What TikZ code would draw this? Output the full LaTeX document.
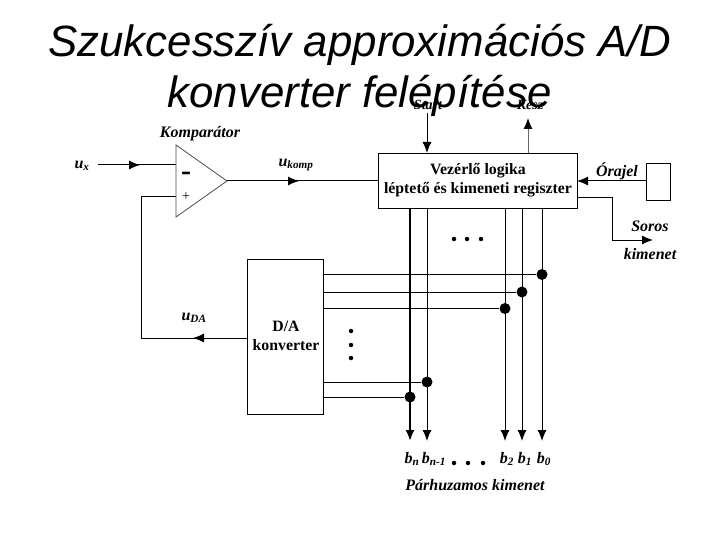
\documentclass[tikz,border=0pt]{standalone}
\usepackage{fontspec}
\setmainfont{Liberation Serif}
\newfontfamily\titlefont{Liberation Sans}
\usetikzlibrary{arrows.meta}
\tikzset{
  x=1pt,y=-1pt,
  wire/.style={line width=1pt,black},
  blockbox/.style={draw,line width=1pt,fill=white,inner sep=0pt,anchor=north west},
  lab/.style={font=\bfseries\itshape\fontsize{16}{16}\selectfont,inner sep=0pt},
  smalllab/.style={font=\bfseries\itshape\fontsize{14}{14}\selectfont,inner sep=0pt},
  blocktext/.style={font=\bfseries\fontsize{15.8}{19}\selectfont,inner sep=0pt,align=center},
  tip/.style={-{Latex[length=11pt,width=9pt]}},
  blacktip/.style={-{Latex[length=11pt,width=9pt,color=black,fill=black]}},
  jdot/.style={circle,fill=black,inner sep=0pt,minimum size=11pt},
  sdot/.style={circle,fill=black,inner sep=0pt,minimum size=4.5pt},
  titletext/.style={font=\titlefont\itshape\fontsize{43.8}{43.8}\selectfont,inner sep=0pt}
}
\begin{document}
\begin{tikzpicture}
\useasboundingbox (0,0) rectangle (720,540);
\fill[white] (0,0) rectangle (720,540);
% blocks
\node[blockbox,minimum width=199pt,minimum height=55pt] (ctl) at (378,153) {};
\node[blocktext] (ctltext) at (478,180) {Vezérlő logika\\léptető és kimeneti regiszter};
\node[blockbox,minimum width=76pt,minimum height=155pt] (da) at (247,259) {};
\node[blocktext] (datext) at (286,336) {D/A\\konverter};
\node[blockbox,minimum width=24pt,minimum height=37pt] (clk) at (646,163) {};
% comparator
\coordinate (ca) at (176,145);\coordinate (cb) at (176,217);\coordinate (cc) at (227,181);
\draw[line width=0.8pt,black!70] (ca) -- (cb) -- (cc) -- cycle;
\node[font=\bfseries\fontsize{30}{30}\selectfont,inner sep=0pt] (minus) at (186,176) {-};
\node[font=\fontsize{14}{14}\selectfont,inner sep=0pt] (plus) at (186,197) {+};
% signal coordinates
\coordinate (uxs) at (98,165);\coordinate (uxm) at (140,165);\coordinate (uxe) at (176,165);
\coordinate (pin) at (176,197);\coordinate (pc) at (141,197);\coordinate (pd) at (141,338);
\coordinate (dam) at (193,338);\coordinate (dao) at (247,338);
\coordinate (ctlin) at (378,181);\coordinate (ukm) at (299,181);
\draw[wire] (uxs) -- (uxe);
\draw[tip,wire] (uxs) -- (uxm);
\draw[wire] (cc) -- (ctlin);
\draw[tip,wire] (cc) -- (ukm);
\draw[wire] (pin) -- (pc) -- (pd) -- (dao);
\draw[tip,wire] (dao) -- (dam);
% top
\coordinate (sts) at (427,113);\coordinate (ste) at (427,153);
\coordinate (kss) at (528,153);\coordinate (kse) at (528,118);
\draw[tip,wire] (sts) -- (ste);
\draw[blacktip,line width=1pt,black!60] (kss) -- (kse);
% clock and serial
\coordinate (clkw) at (646,181);\coordinate (ctle) at (577,181);
\draw[tip,wire] (clkw) -- (ctle);
\coordinate (sa) at (577,198);\coordinate (sb) at (612,198);\coordinate (sc) at (612,240);\coordinate (sd) at (653,240);
\draw[tip,wire] (sa) -- (sb) -- (sc) -- (sd);
% data lines
\foreach \n/\x/\w in {n/410/2pt,m/427/1pt,c/505/1pt,b/522/1pt,a/542/1pt}{
  \coordinate (t\n) at (\x,208);
  \coordinate (e\n) at (\x,441);
  \draw[tip,line width=\w] (t\n) -- (e\n);
}
\foreach \n/\x/\y in {a/542/274.5,b/522/292,c/505/308.5,m/427/382,n/410/397}{
  \node[jdot] (j\n) at (\x,\y) {};
  \coordinate (l\n) at (323,\y);
  \draw[wire] (l\n) -- (j\n);
}
% dots
\foreach \i/\x/\y in {1/454/239,2/467/239,3/481/239,4/351/331,5/351/345,6/351/358,7/454/463,8/468/463,9/483/463}{
  \node[sdot] (d\i) at (\x,\y) {};
}
% labels
\node[lab] (lkomp) at (200,134) {Komparátor};
\node[lab] (lux) at (82,166) {u\textsubscript{x}};
\node[lab] (lukomp) at (296,165) {u\textsubscript{komp}};
\node[lab] (luda) at (194,318) {u\textsubscript{DA}};
\node[lab] (lora) at (617,171) {Órajel};
\node[lab] (lsor) at (650,226) {Soros};
\node[lab] (lkim) at (650,254) {kimenet};
\node[lab] (lbn) at (412,459) {b\textsubscript{n}};
\node[lab] (lbm) at (434,459) {b\textsubscript{n-1}};
\node[lab] (lb2) at (507,459) {b\textsubscript{2}};
\node[lab] (lb1) at (525,459) {b\textsubscript{1}};
\node[lab] (lb0) at (544,459) {b\textsubscript{0}};
\node[lab] (lpar) at (475,485) {Párhuzamos kimenet};
\node[smalllab] (lstart) at (428,105) {Start};
\node[smalllab] (lkesz) at (530,105) {Kész};
% title
\node[titletext] (t1) at (360,45) {Szukcesszív approximációs A/D};
\node[titletext] (t2) at (360,96) {konverter felépítése};
\end{tikzpicture}
\end{document}
